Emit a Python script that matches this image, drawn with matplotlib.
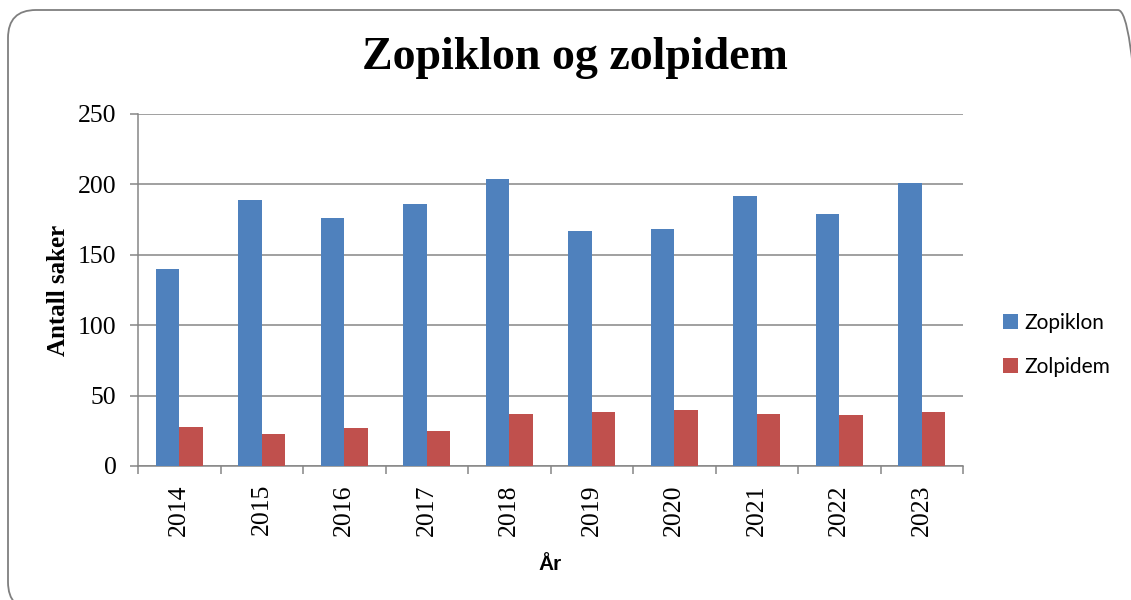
import numpy as np
import matplotlib
matplotlib.use("Agg")
import matplotlib.pyplot as plt
from matplotlib.patches import FancyBboxPatch
from matplotlib.transforms import IdentityTransform

# Data
years = ["2014", "2015", "2016", "2017", "2018", "2019", "2020", "2021", "2022", "2023"]
zopiklon = [140, 189, 176, 186, 204, 167, 168, 192, 179, 201]
zolpidem = [28, 23, 27, 25, 37, 38, 40, 37, 36, 38]

BLUE = "#4F81BD"
RED = "#C0504D"
GRID = "#868686"
W = 1131
H = 600

fig = plt.figure(figsize=(W / 100, H / 100), dpi=100)
fig.patch.set_facecolor("white")

# rounded frame around the chart area (pixel coords, origin bottom-left)
frame = FancyBboxPatch((8, -10), 1138, 600,
                       boxstyle="round,pad=0,rounding_size=28",
                       transform=IdentityTransform(), facecolor="none",
                       edgecolor="#7f7f7f", linewidth=1.3, clip_on=False)
fig.patches.append(frame)

ax = fig.add_axes([138 / W, 1 - 466 / H, 825 / W, 352 / H])

x = np.arange(len(years))
bw = 1 / 3.5
ax.bar(x - bw / 2, zopiklon, bw, color=BLUE, label="Zopiklon", zorder=3)
ax.bar(x + bw / 2, zolpidem, bw, color=RED, label="Zolpidem", zorder=3)

ax.set_xlim(-0.5, len(years) - 0.5)
ax.set_ylim(0, 250)
ax.set_yticks(np.arange(0, 251, 50))
ax.yaxis.grid(True, color=GRID, linewidth=1.1, zorder=0)

# category ticks at boundaries, labels at centres
ax.set_xticks(np.arange(-0.5, len(years), 1))
ax.set_xticklabels([])
ax.set_xticks(x, minor=True)
ax.set_xticklabels(years, minor=True, rotation=90, family="Liberation Serif", fontsize=18.5)
ax.tick_params(axis="x", which="major", length=6, width=1.1, color=GRID, direction="out")
ax.tick_params(axis="x", which="minor", length=0, pad=13)
ax.tick_params(axis="y", length=6, width=1.1, color=GRID, direction="out", pad=9.5)
for lab in ax.get_yticklabels():
    lab.set_family("Liberation Serif")
    lab.set_fontsize(18.5)

for s in ["top", "right"]:
    ax.spines[s].set_visible(False)
for s in ["left", "bottom"]:
    ax.spines[s].set_color(GRID)
    ax.spines[s].set_linewidth(1.1)

ax.set_ylabel("Antall saker", family="Liberation Serif", fontweight="bold", fontsize=18, labelpad=6)
ax.set_xlabel("År", family="Liberation Sans", fontweight="bold", fontsize=15, labelpad=14)

fig.text(574.5 / W, 1 - 58 / H, "Zopiklon og zolpidem", ha="center", va="center",
         family="Liberation Serif", fontweight="bold", fontsize=33)

fig.legend(loc="center left", bbox_to_anchor=(1003 / W, 1 - 345 / H), frameon=False,
           prop={"family": "Lato", "size": 15}, handlelength=0.72, handleheight=0.72,
           handletextpad=0.3, labelspacing=1.15, borderpad=0, borderaxespad=0)

fig.savefig("out.png", dpi=100)
